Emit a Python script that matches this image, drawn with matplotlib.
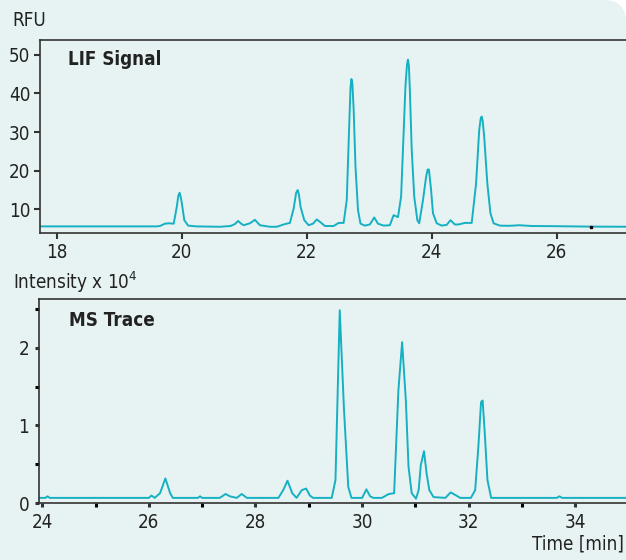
import numpy as np
import matplotlib
matplotlib.use("Agg")
import matplotlib.pyplot as plt
from matplotlib.patches import FancyBboxPatch

plt.rcParams['font.family'] = ['DejaVu Sans']
plt.rcParams['font.stretch'] = 'condensed'

# LIF trace (time in min, RFU)
lif_t = [17.7, 19.6, 19.65, 19.73, 19.79, 19.87, 19.92, 19.945, 19.965, 19.985, 20.0, 20.04, 20.1, 20.23,
         20.61, 20.78, 20.85, 20.9, 20.95, 20.99, 21.09, 21.17, 21.25, 21.41, 21.52, 21.65,
         21.73, 21.79, 21.83, 21.855, 21.875, 21.9, 21.96, 22.03, 22.1, 22.16, 22.21, 22.29, 22.43, 22.51,
         22.59, 22.64, 22.68, 22.70, 22.715, 22.73, 22.75, 22.78, 22.82, 22.86, 22.93, 23.01, 23.08, 23.14,
         23.23, 23.33, 23.39, 23.46, 23.51, 23.55, 23.58, 23.605, 23.62, 23.635, 23.65, 23.68, 23.72, 23.77,
         23.8, 23.86, 23.91, 23.935, 23.955, 23.99, 24.02, 24.08, 24.16, 24.24, 24.3, 24.37, 24.43,
         24.53, 24.64, 24.71, 24.76, 24.785, 24.80, 24.815, 24.84, 24.89, 24.94, 24.99, 25.09, 25.25, 25.4,
         25.6, 26.0, 26.5, 27.2]
lif_rfu = [5.6, 5.6, 5.7, 6.3, 6.4, 6.3, 10.7, 13.6, 14.3, 13.0, 11.6, 7.2, 5.8, 5.6,
           5.5, 5.7, 6.2, 7.0, 6.3, 5.9, 6.4, 7.3, 5.9, 5.5, 5.5, 6.2,
           6.5, 10.2, 14.3, 15.0, 13.8, 10.7, 7.2, 5.9, 6.3, 7.4, 6.8, 5.7, 5.7, 6.5,
           6.5, 12.4, 32.0, 41.5, 43.7, 42.5, 36.0, 21.0, 9.8, 6.3, 5.8, 6.1, 7.9, 6.3,
           5.8, 5.9, 8.5, 8.0, 13.3, 29.7, 42.0, 47.5, 48.7, 47.0, 40.9, 25.4, 13.3, 7.2,
           6.4, 12.4, 18.4, 20.3, 20.3, 15.0, 9.0, 6.4, 5.8, 6.0, 7.2, 6.1, 6.1,
           6.5, 6.5, 16.7, 30.5, 33.6, 34.0, 33.0, 28.8, 16.7, 9.0, 6.4, 5.8, 5.75, 5.9,
           5.7, 5.65, 5.55, 5.5]
lif_dot_t = [26.55]
lif_dot_rfu = [5.55]

# MS trace (time in min, intensity x 10^4)
ms_t = [23.9, 24.06, 24.1, 24.14, 26.0, 26.05, 26.11, 26.21, 26.31, 26.4, 26.45,
        26.92, 26.96, 27.0, 27.33, 27.44, 27.52, 27.65, 27.74, 27.84, 28.43, 28.52,
        28.6, 28.69, 28.77, 28.87, 28.95, 29.02, 29.08, 29.43, 29.5, 29.58, 29.66,
        29.74, 29.8, 30.0, 30.08, 30.15, 30.21, 30.37, 30.5, 30.6, 30.68, 30.75,
        30.82, 30.87, 30.93, 31.01, 31.06, 31.1, 31.16, 31.21, 31.26, 31.34, 31.56,
        31.66, 31.74, 31.84, 32.04, 32.12, 32.18, 32.23, 32.26, 32.3, 32.35, 32.42,
        33.65, 33.7, 33.75, 35.0]
ms_int = [0.07, 0.07, 0.09, 0.07, 0.07, 0.1, 0.07, 0.13, 0.32, 0.13, 0.07,
          0.07, 0.09, 0.07, 0.07, 0.12, 0.09, 0.07, 0.12, 0.07, 0.07, 0.17,
          0.29, 0.13, 0.07, 0.17, 0.19, 0.1, 0.07, 0.07, 0.3, 2.48, 1.2,
          0.21, 0.07, 0.07, 0.18, 0.09, 0.07, 0.07, 0.12, 0.13, 1.45, 2.07,
          1.32, 0.47, 0.13, 0.06, 0.17, 0.49, 0.67, 0.38, 0.17, 0.08, 0.07,
          0.14, 0.11, 0.07, 0.07, 0.17, 0.73, 1.3, 1.32, 0.9, 0.3, 0.07,
          0.07, 0.09, 0.07, 0.07]

line_c = "#15b1c2"
bg_c = "#e7f3f3"
spine_c = "#333333"
text_c = "#222222"
fs = 13.5

fig = plt.figure(figsize=(6.26, 5.6), dpi=100, facecolor="white")
# panel background with rounded top-right corner (inches)
bg = FancyBboxPatch((-0.5, -0.5), 6.26 + 0.5, 5.6 + 0.5,
                    boxstyle="round,pad=0,rounding_size=0.22",
                    transform=fig.dpi_scale_trans, facecolor=bg_c, edgecolor="none", zorder=-10)
fig.patches.append(bg)

ax1 = fig.add_axes([0.0639, 0.584, 1.0, 0.3446])
ax2 = fig.add_axes([0.0623, 0.1012, 1.0, 0.3643])

for ax in (ax1, ax2):
    ax.patch.set_alpha(0)
    for s in ax.spines.values():
        s.set_color(spine_c)
        s.set_linewidth(1.2)
    ax.tick_params(colors=spine_c, labelcolor=text_c, labelsize=fs, direction="out")

ax1.plot(lif_t, lif_rfu, color=line_c, lw=1.4, solid_joinstyle="round")
ax1.plot(lif_dot_t, lif_dot_rfu, "s", color="black", ms=2)
ax1.set_xlim(17.73, 27.75)
ax1.set_ylim(3.9, 53.8)
ax1.set_xticks([18, 20, 22, 24, 26])
ax1.set_yticks([10, 20, 30, 40, 50])
ax1.tick_params(length=4, width=1.5, pad=3)
ax1.text(0.045, 0.87, "LIF Signal", transform=ax1.transAxes, fontsize=fs,
         fontweight="bold", color=text_c)

ax2.plot(ms_t, ms_int, color=line_c, lw=1.4, solid_joinstyle="round")
ax2.set_xlim(23.94, 35.68)
ax2.set_ylim(0, 2.62)
ax2.set_xticks([24, 26, 28, 30, 32, 34])
ax2.set_xticks([25, 27, 29, 31, 33, 35], minor=True)
ax2.set_yticks([0, 1, 2])
ax2.set_yticks([0.5, 1.5, 2.5], minor=True)
ax2.tick_params(which="both", length=3, width=2.2, pad=4)
ax2.text(0.048, 0.87, "MS Trace", transform=ax2.transAxes, fontsize=fs,
         fontweight="bold", color=text_c)

fig.text(0.019, 0.963, "RFU", fontsize=fs, color=text_c, va="center")
fig.text(0.021, 0.496, r"Intensity x 10$^4$", fontsize=fs, color=text_c, va="center")
fig.text(0.997, 0.012, "Time [min]", fontsize=fs, color=text_c, ha="right", va="bottom")

fig.savefig("out.png", dpi=100, facecolor=fig.get_facecolor())
